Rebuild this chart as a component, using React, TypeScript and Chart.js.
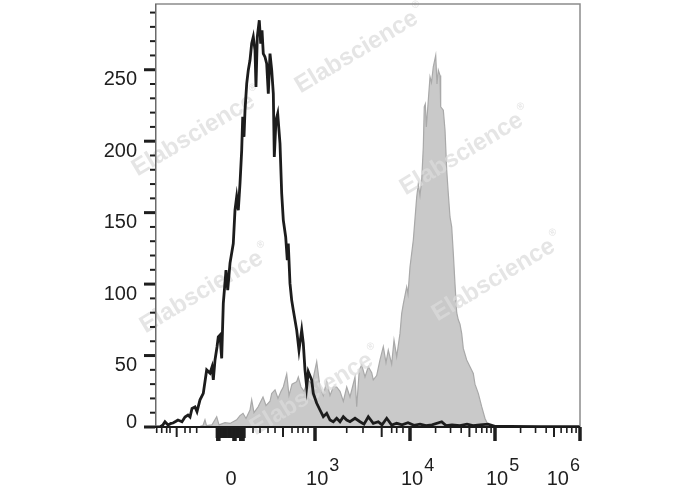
import React, { useEffect, useRef } from "react";
import { Chart, registerables } from "chart.js";

Chart.register(...registerables);

// Channel positions (display scale 0..1000) and event counts
const blackChannels = [
  0, 11.8, 18.8, 23.5, 30.6, 37.6, 42.4, 49.4, 54.1, 63.5,
  70.6, 77.6, 82.4, 87.1, 94.1, 98.8, 105.9, 113.6, 121.6, 129.4,
  134.1, 137.2, 141.2, 145.9, 148.9, 152.9, 156.9, 160.7, 167.1, 171.1,
  176.5, 184.2, 188.2, 192.2, 196, 200, 204, 206.4, 209.4, 211.8,
  215.8, 219.5, 223.5, 227.5, 231.3, 235.3, 237.6, 240.7, 245.4, 248.7,
  251.8, 254.8, 258.8, 262.8, 266.6, 270.6, 274.6, 278.4, 280.7, 284.7,
  288.7, 294.1, 298.1, 301.9, 307.5, 311.3, 313.6, 317.6, 321.6, 325.4,
  333.4, 338.8, 345.2, 348.9, 352.9, 356.9, 360.7, 368.7, 372.5, 380.5,
  388.2, 396, 404, 411.8, 419.5, 427.5, 435.3, 443.1, 451.1, 458.8,
  470.6, 482.4, 491.8, 501.9, 513.6, 525.4, 534.1, 545.2, 556.9, 568.7,
  581.2, 595.3, 609.4, 623.5, 637.6, 651.8, 674.6, 684.7, 698.8, 717.6,
  734.1, 748.2, 764.7, 783.5, 800, 835.3, 905.9, 1000,
];
const blackCounts = [
  0, 0, 1.5, 3.7, 1.4, 2.5, 2.8, 4, 4.9, 3.7,
  7, 8.4, 7, 13, 14, 10.7, 19, 23.5, 39.9, 37.7,
  42, 33, 46.9, 56, 63, 64.3, 48, 86.5, 109.8, 95.8,
  114.7, 128.4, 151.7, 161, 151.7, 170.4, 193.7, 217, 203, 221.7,
  240.3, 249.7, 256.6, 268.3, 273, 263.6, 238, 273, 284.6, 268.3,
  277.6, 261.3, 259, 254.3, 233.3, 261.3, 249.7, 233.3, 189, 214.7,
  219.3, 198.4, 163.4, 144.8, 133, 116.8, 128.4, 100.5, 88.8, 81.8,
  67.8, 53.8, 67.8, 58.7, 40, 28, 38.7, 32.9, 23.5, 16.6,
  11.9, 7.2, 9.6, 4.9, 3.7, 6.1, 3.7, 7.2, 4.9, 3.7,
  6.1, 3.7, 2, 7.2, 2.6, 3.7, 1.5, 6.1, 1.4, 2.6,
  1.5, 3, 1.2, 2, 1, 1.5, 3.7, 1, 1.5, 1,
  2, 1, 1.5, 2, 0.5, 0.5, 0.3, 0.3,
];

const grayChannels = [
  82.4, 105.9, 112.9, 117.6, 121.2, 134.1, 145.2, 150.6, 164.7, 176.5,
  192.2, 200, 207.1, 214.1, 223.5, 227.5, 232.9, 242.4, 254.1, 261.2,
  270.6, 274.6, 282.4, 289.4, 296.5, 301.9, 309.9, 315.3, 322.4, 333.4,
  337.2, 343.5, 350.6, 360, 369.4, 380.5, 388.2, 396, 404, 411.8,
  419.5, 427.5, 435.3, 443.1, 451.1, 458.8, 470.6, 474.6, 480.7, 486.4,
  494.1, 501.9, 509.9, 513.6, 521.6, 529.4, 537.2, 543.5, 548.9, 556.9,
  562.4, 568.7, 576.5, 580.5, 584.2, 592.2, 595.3, 600, 607.8, 615.8,
  619.5, 623.5, 627.5, 631.3, 633.6, 636, 638.4, 642.4, 647.1, 650.6,
  654.8, 660.5, 663.5, 666.6, 670.6, 672.2, 678.4, 682.4, 686.4, 690.1,
  694.1, 698.1, 701.9, 705.9, 709.9, 713.6, 717.6, 721.6, 725.4, 733.4,
  741.2, 748.9, 752.9, 760.7, 768.7, 776.5, 781.9, 788.2, 800, 823.5,
  847.1, 858.8,
];
const grayCounts = [
  0, 0.5, 1, 5, 1, 1.5, 7.2, 1.5, 3, 2.5,
  5, 8, 9.6, 6, 11.9, 19, 10, 14, 21, 15,
  18, 23.5, 26, 20, 25, 28, 37, 22, 30, 31.7,
  35, 28, 25, 33, 30, 45.7, 28, 22, 32, 22,
  28, 28, 25, 18, 28, 21, 35, 14.2, 40, 43.4,
  35, 42.2, 38, 33, 36, 46.9, 56.2, 45, 53.8, 44,
  60.8, 49.2, 65.5, 79.5, 86, 98, 93, 112, 130.8, 161,
  170, 162, 172.7, 196, 224, 226, 210, 226, 245, 241,
  252, 260, 240, 249.7, 246, 224, 221.7, 207.7, 179.7, 163.4,
  147, 140, 121.5, 100, 80, 75, 72, 65.5, 55, 46.9,
  42.2, 37.5, 30, 23.5, 14.2, 6, 2.6, 1, 0.5, 0.5,
  0.3, 0,
];

// Axis ticks and labels
const yMajorTicks = [0, 50, 100, 150, 200, 250];
const yMinorTicks = [10, 20, 30, 40, 60, 70, 80, 90, 110, 120, 130, 140, 160, 170, 180, 190, 210, 220, 230, 240, 260, 270, 280, 290];
const xLabelPositions = [178.8, 376.5, 600, 800, 1000];
const xLabelBases = ["0", "10", "10", "10", "10"];
const xLabelExponents = ["", "3", "4", "5", "6"];
const xMajorTicks = [376.5, 600, 800, 1000];
const xMediumTicks = [51, 301.2, 533.4, 739.8, 938.8];
const xZeroBandTicks = [145, 148, 151, 154, 157, 160, 163, 166, 169, 172, 175, 178, 181, 184, 187, 190, 193, 196, 199, 202, 205, 208, 211];
const xZeroBandLongTicks = [146, 149, 152, 184, 187, 190, 200, 203, 206, 209];
const xMinorTicks = [
  4, 15.8, 27.5, 35.3, 70.6, 82.4, 98.1,
  230.6, 247.1, 265.9, 282.4, 322.4, 336.5, 348.2, 360,
  451.1, 489.4, 556.9, 568.7, 583.5,
  660.2, 695.4, 720.4, 755.6, 769, 780.6, 790.8,
  860.2, 895.4, 920.4, 955.6, 969, 980.6, 990.8,
];
const yMax = 296;
const xMax = 1000;
const watermark = "Elabscience";

const FONT = "'Liberation Sans', Arial, Helvetica, sans-serif";

const decorPlugin = {
  id: "decor",
  beforeDatasetDraw(chart: any, args: any) {
    if (args.index !== 0) return;
    const ctx = chart.ctx;
    const spots = [
      [360, 50], [197, 133], [465, 152], [205, 290], [497, 278], [315, 392],
    ];
    ctx.save();
    ctx.fillStyle = "rgba(219,219,219,0.72)";
    for (const [cx, cy] of spots) {
      ctx.save();
      ctx.translate(cx, cy);
      ctx.rotate((-31 * Math.PI) / 180);
      ctx.font = `bold 24px ${FONT}`;
      const w = ctx.measureText(watermark).width;
      ctx.textBaseline = "middle";
      ctx.fillText(watermark, -w / 2 - 4, 0);
      ctx.font = `bold 10px ${FONT}`;
      ctx.fillText("\u00AE", w / 2 - 2, -10);
      ctx.restore();
    }
    ctx.restore();
  },
  afterDatasetsDraw(chart: any) {
    const ctx = chart.ctx;
    const xs = chart.scales.x;
    const ys = chart.scales.y;
    const { left, right, top, bottom } = chart.chartArea;
    ctx.save();
    // frame
    ctx.lineCap = "butt";
    ctx.strokeStyle = "#8c8c8c";
    ctx.lineWidth = 1.5;
    ctx.beginPath();
    ctx.moveTo(left, top);
    ctx.lineTo(right, top);
    ctx.lineTo(right, bottom);
    ctx.stroke();
    ctx.strokeStyle = "#6a6a6a";
    ctx.beginPath();
    ctx.moveTo(left + 0.75, top);
    ctx.lineTo(left + 0.75, bottom);
    ctx.stroke();
    ctx.strokeStyle = "#1a1a1a";
    ctx.lineWidth = 2;
    ctx.beginPath();
    ctx.moveTo(left - 10, bottom);
    ctx.lineTo(right, bottom);
    ctx.stroke();

    const xTick = (v: number, len: number, w: number) => {
      const px = xs.getPixelForValue(v);
      ctx.lineWidth = w;
      ctx.beginPath();
      ctx.moveTo(px, bottom);
      ctx.lineTo(px, bottom + len);
      ctx.stroke();
    };
    const yTick = (v: number, len: number, w: number) => {
      const py = ys.getPixelForValue(v);
      ctx.lineWidth = w;
      ctx.beginPath();
      ctx.moveTo(left - len, py);
      ctx.lineTo(left, py);
      ctx.stroke();
    };
    ctx.strokeStyle = "#1e1e1e";
    xMinorTicks.forEach((v) => xTick(v, 6, 1.6));
    xZeroBandTicks.forEach((v) => xTick(v, 11, 2));
    xZeroBandLongTicks.forEach((v) => xTick(v, 14, 2));
    xMediumTicks.forEach((v) => xTick(v, 10, 2));
    xMajorTicks.forEach((v) => xTick(v, 14, 3.5));
    yMinorTicks.forEach((v) => yTick(v, 5, 2));
    yMajorTicks.forEach((v) => yTick(v, 11, 3));

    // y labels
    ctx.fillStyle = "#1e1e1e";
    ctx.font = `20px ${FONT}`;
    ctx.textAlign = "right";
    ctx.textBaseline = "alphabetic";
    yMajorTicks.forEach((v) => {
      const py = ys.getPixelForValue(v);
      const y = v === 0 ? py + 1 : py + 15.5;
      ctx.fillText(String(v), 137, y);
    });

    // x labels
    ctx.textAlign = "left";
    xLabelPositions.forEach((v, i) => {
      const px = xs.getPixelForValue(v);
      const base = xLabelBases[i];
      const exp = xLabelExponents[i];
      ctx.font = `20px ${FONT}`;
      const bw = ctx.measureText(base).width;
      if (!exp) {
        ctx.fillText(base, px - bw / 2, 485);
        return;
      }
      ctx.font = `18px ${FONT}`;
      const ew = ctx.measureText(exp).width;
      const total = bw + 1 + ew;
      const x0 = Math.min(px - 9, right - total);
      ctx.font = `20px ${FONT}`;
      ctx.fillText(base, x0, 485);
      ctx.font = `18px ${FONT}`;
      ctx.fillText(exp, x0 + bw + 1, 471);
    });
    ctx.restore();
  },
};

export default function App() {
  const canvasRef = useRef<HTMLCanvasElement | null>(null);

  useEffect(() => {
    const canvas = canvasRef.current;
    if (!canvas) return;
    const blackData = blackChannels.map((x, i) => ({ x, y: blackCounts[i] }));
    const grayData = grayChannels.map((x, i) => ({ x, y: grayCounts[i] }));
    const chart = new Chart(canvas, {
      type: "line",
      data: {
        datasets: [
          {
            label: "Isotype",
            data: blackData,
            borderColor: "#1c1c1c",
            borderWidth: 2.8,
            pointRadius: 0,
            fill: false,
            tension: 0,
          },
          {
            label: "Stained",
            data: grayData,
            borderColor: "#a9a9a9",
            backgroundColor: "#c9c9c9",
            borderWidth: 1.2,
            pointRadius: 0,
            fill: "origin",
            tension: 0,
          },
        ],
      },
      options: {
        responsive: false,
        animation: false,
        devicePixelRatio: 1,
        layout: { padding: { left: 155, right: 108, top: 4, bottom: 63 } },
        plugins: { legend: { display: false }, tooltip: { enabled: false } },
        scales: {
          x: { type: "linear", min: 0, max: xMax, display: false },
          y: { type: "linear", min: 0, max: yMax, display: false },
        },
      },
      plugins: [decorPlugin],
    });
    return () => chart.destroy();
  }, []);

  return (
    <div style={{ position: "fixed", left: 0, top: 0, width: 688, height: 490, background: "#fff" }}>
      <canvas ref={canvasRef} width={688} height={490} style={{ display: "block", width: 688, height: 490 }} />
    </div>
  );
}
